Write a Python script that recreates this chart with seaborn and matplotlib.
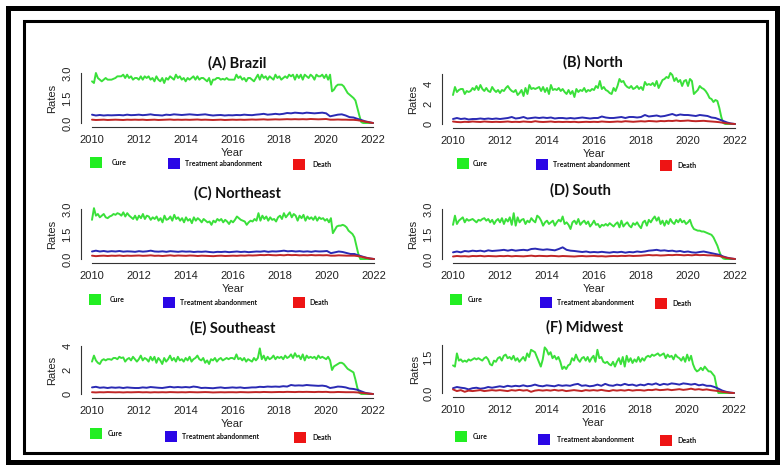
import numpy as np
import pandas as pd
import matplotlib
matplotlib.use("Agg")
import matplotlib.pyplot as plt
from matplotlib.patches import Rectangle
import seaborn as sns

# monthly cure rates, Jan 2010 .. Jan 2022 (145 values)
cure_brazil = [
    2.5, 2.4, 3.0, 2.7, 2.6, 2.5, 2.6, 2.7, 2.6, 2.6, 2.6, 2.65,
    2.7, 2.8, 2.8, 2.8, 2.9, 2.7, 2.9, 2.7, 2.8, 2.6, 2.7, 2.7,
    2.6, 2.8, 2.6, 2.8, 2.7, 2.8, 2.6, 2.7, 2.5, 2.8, 2.6, 2.5,
    2.7, 2.4, 2.7, 2.6, 2.8, 2.7, 2.6, 2.9, 2.7, 2.8, 2.6, 2.7,
    2.5, 2.7, 2.6, 2.7, 2.8, 2.6, 2.8, 2.6, 2.7, 2.7, 2.6, 2.5,
    2.7, 2.3, 2.6, 2.6, 2.7, 2.7, 2.6, 2.65, 2.6, 2.7, 2.6, 2.6,
    2.6, 2.6, 2.9, 2.7, 2.8, 2.6, 2.7, 2.5, 2.7, 2.7, 2.6, 2.5,
    2.7, 2.9, 2.6, 2.9, 2.7, 2.8, 2.6, 2.8, 2.7, 2.6, 2.9, 2.7,
    2.8, 2.6, 2.7, 2.8, 2.7, 2.9, 2.8, 2.9, 2.6, 2.9, 2.7, 2.9,
    2.6, 2.9, 2.8, 2.7, 2.9, 2.8, 2.6, 2.9, 2.8, 2.8, 2.9, 2.7,
    2.9, 2.6, 2.9, 1.9, 2.0, 2.2, 2.3, 2.3, 2.3, 2.2, 2.0, 1.8,
    1.7, 1.6, 1.5, 1.35, 0.9, 0.45, 0.05, 0.0, 0.0, 0.0, 0.0, 0.0,
    0.0]
cure_north = [
    2.9, 3.7, 3.2, 3.4, 3.5, 3.5, 3.0, 3.3, 3.2, 3.3, 3.6, 3.4,
    3.8, 3.4, 3.9, 3.5, 3.3, 3.6, 3.3, 3.2, 3.7, 3.4, 3.2, 3.4,
    3.1, 3.4, 3.3, 3.6, 3.8, 3.5, 3.3, 3.2, 3.4, 2.9, 3.1, 3.4,
    2.8, 3.6, 3.0, 3.9, 3.5, 3.6, 3.5, 3.6, 3.7, 3.3, 3.7, 3.2,
    3.6, 3.0, 3.9, 3.4, 3.5, 3.4, 3.6, 3.3, 3.5, 3.2, 3.0, 3.4,
    3.0, 3.3, 2.7, 3.5, 3.2, 3.4, 3.3, 3.6, 3.2, 3.4, 3.3, 3.5,
    3.4, 3.8, 3.6, 4.3, 3.5, 3.7, 3.4, 3.3, 3.1, 3.0, 3.6, 3.3,
    3.8, 4.5, 4.2, 4.3, 3.9, 3.7, 3.6, 3.8, 3.5, 3.6, 3.8, 3.5,
    3.7, 3.4, 4.2, 3.9, 4.0, 3.9, 4.1, 3.8, 4.3, 3.6, 4.0, 4.4,
    4.5, 4.7, 4.6, 5.1, 4.9, 4.3, 4.6, 4.2, 4.4, 3.8, 4.3, 4.4,
    3.8, 4.5, 4.3, 3.0, 3.2, 3.4, 3.8, 3.6, 3.5, 3.3, 3.0, 2.6,
    2.5, 2.2, 2.4, 2.3, 1.6, 0.7, 0.1, 0.0, 0.0, 0.0, 0.0, 0.0,
    0.0]
cure_northeast = [
    2.35, 3.05, 2.6, 2.7, 2.5, 2.6, 2.7, 2.5, 2.45, 2.55, 2.6, 2.7,
    2.65, 2.75, 2.7, 2.6, 2.8, 2.55, 2.75, 2.6, 2.5, 2.4, 2.6, 2.35,
    2.6, 2.45, 2.7, 2.4, 2.6, 2.55, 2.35, 2.5, 2.4, 2.55, 2.3, 2.45,
    2.2, 2.6, 2.35, 2.4, 2.55, 2.3, 2.65, 2.4, 2.5, 2.3, 2.45, 2.2,
    2.5, 2.3, 2.4, 2.15, 2.5, 2.3, 2.45, 2.35, 2.2, 2.4, 2.3, 2.2,
    2.25, 2.05, 2.3, 2.2, 2.4, 2.3, 2.4, 2.2, 2.35, 2.25, 2.1, 2.3,
    2.2, 2.35, 2.55, 2.45, 2.35, 2.3, 2.25, 2.05, 2.2, 2.3, 2.25, 2.4,
    2.3, 2.75, 2.3, 2.6, 2.4, 2.55, 2.3, 2.5, 2.35, 2.4, 2.25, 2.5,
    2.6, 2.4, 2.75, 2.5, 2.65, 2.8, 2.5, 2.7, 2.6, 2.3, 2.6, 2.45,
    2.65, 2.3, 2.55, 2.4, 2.5, 2.35, 2.55, 2.3, 2.5, 2.4, 2.45, 2.3,
    2.4, 2.2, 2.45, 1.55, 1.75, 1.95, 2.0, 2.0, 2.05, 2.0, 1.9, 1.7,
    1.6, 1.5, 1.3, 0.8, 0.3, 0.0, 0.0, 0.0, 0.0, 0.0, 0.0, 0.0,
    0.0]
cure_south = [
    2.05, 2.6, 2.1, 2.3, 2.4, 2.5, 2.2, 2.4, 2.3, 2.35, 2.4, 2.3,
    2.2, 2.35, 2.3, 2.4, 2.45, 2.3, 2.4, 2.2, 2.35, 2.1, 2.3, 2.4,
    2.2, 2.45, 2.1, 2.4, 2.25, 2.5, 2.05, 2.75, 2.0, 2.5, 2.2, 2.35,
    2.4, 2.1, 2.3, 2.2, 2.45, 2.3, 2.2, 2.6, 2.5, 2.3, 2.0, 2.2,
    2.3, 2.1, 2.2, 2.3, 2.0, 2.2, 2.35, 2.25, 2.55, 2.1, 2.2, 2.05,
    1.8, 2.2, 2.3, 2.1, 2.4, 2.05, 2.2, 2.3, 2.1, 2.25, 1.95, 2.1,
    2.3, 2.05, 2.1, 1.9, 2.05, 2.0, 2.1, 2.0, 2.15, 2.05, 1.95, 2.1,
    2.2, 1.9, 2.3, 1.95, 2.1, 2.2, 2.0, 1.9, 2.15, 2.05, 2.2, 2.0,
    1.85, 2.2, 2.3, 2.0, 2.35, 2.2, 2.4, 2.55, 2.3, 2.5, 2.1, 2.3,
    2.0, 2.3, 2.1, 2.4, 2.2, 2.1, 2.35, 2.2, 2.4, 2.2, 2.3, 2.1,
    2.2, 2.35, 2.0, 1.8, 1.75, 1.7, 1.7, 1.65, 1.65, 1.6, 1.55, 1.5,
    1.45, 1.3, 1.05, 0.8, 0.45, 0.15, 0.03, 0.0, 0.0, 0.0, 0.0, 0.0,
    0.0]
cure_southeast = [
    2.7, 3.2, 2.8, 2.6, 2.5, 2.8, 2.9, 2.8, 2.9, 2.9, 2.85, 3.0,
    3.0, 2.9, 3.1, 3.0, 3.05, 2.7, 2.9, 3.0, 2.8, 3.1, 2.9, 2.7,
    2.9, 3.2, 2.8, 3.0, 2.9, 2.7, 3.1, 2.8, 3.1, 2.6, 3.0, 2.8,
    2.5, 3.0, 2.7, 2.9, 3.2, 2.8, 3.0, 2.7, 3.1, 2.8, 2.9, 2.7,
    3.0, 2.8, 3.1, 2.7, 2.9, 3.0, 3.2, 2.9, 2.8, 3.0, 2.6, 2.8,
    2.5, 2.9, 2.8, 3.0, 2.7, 2.9, 3.0, 2.8, 2.9, 3.0, 2.9, 3.0,
    3.0, 2.9, 3.3, 2.9, 3.0, 2.8, 3.0, 2.7, 2.9, 2.8, 2.7, 3.0,
    2.8, 3.0, 3.8, 2.9, 3.2, 2.8, 3.1, 2.9, 3.0, 3.2, 2.9, 3.1,
    3.0, 3.1, 2.9, 3.2, 3.0, 3.1, 3.3, 3.0, 3.4, 3.1, 3.2, 2.9,
    3.3, 2.8, 3.2, 3.0, 3.1, 3.0, 3.1, 2.9, 3.2, 3.0, 3.1, 3.0,
    2.9, 3.1, 2.8, 2.0, 2.3, 2.4, 2.5, 2.6, 2.6, 2.5, 2.3, 2.1,
    2.0, 1.9, 1.8, 1.2, 0.5, 0.1, 0.0, 0.0, 0.0, 0.0, 0.0, 0.0,
    0.0]
cure_midwest = [
    1.15, 1.1, 1.65, 1.35, 1.4, 1.3, 1.35, 1.3, 1.4, 1.35, 1.4, 1.45,
    1.4, 1.45, 1.4, 1.35, 1.45, 1.5, 1.4, 1.2, 1.15, 1.35, 1.3, 1.45,
    1.5, 1.35, 1.55, 1.6, 1.45, 1.5, 1.4, 1.55, 1.35, 1.45, 1.3, 1.4,
    1.5, 1.35, 1.65, 1.5, 1.8, 1.75, 1.7, 1.5, 1.3, 1.1, 1.4, 1.9,
    1.8, 1.6, 1.7, 1.45, 1.55, 1.4, 1.5, 1.3, 1.0, 1.1, 1.0, 1.15,
    1.2, 1.45, 1.35, 1.6, 1.4, 1.3, 1.45, 1.5, 1.35, 1.5, 1.3, 1.45,
    1.55, 1.3, 1.8, 1.45, 1.5, 1.3, 1.25, 1.3, 1.2, 1.15, 1.3, 1.1,
    1.3, 1.45, 1.2, 1.5, 1.1, 1.55, 1.3, 1.45, 1.25, 1.4, 1.3, 1.5,
    1.3, 1.45, 1.35, 1.5, 1.55, 1.5, 1.6, 1.55, 1.6, 1.65, 1.55, 1.6,
    1.65, 1.45, 1.6, 1.5, 1.55, 1.4, 1.6, 1.5, 1.45, 1.35, 1.5, 1.3,
    1.6, 1.35, 1.55, 1.2, 1.0, 0.9, 0.95, 1.05, 0.95, 1.1, 1.0, 0.9,
    0.9, 0.8, 0.7, 0.3, 0.0, 0.0, 0.0, 0.0, 0.0, 0.0, 0.0, 0.0,
    0.0]

# bimonthly treatment abandonment rates, Jan 2010 .. Jan 2022 (73 values)
aband_brazil = [
    0.5, 0.45, 0.48, 0.45, 0.47, 0.46,
    0.47, 0.48, 0.46, 0.5, 0.47, 0.48,
    0.5, 0.47, 0.49, 0.52, 0.48, 0.47,
    0.45, 0.5, 0.48, 0.52, 0.5, 0.48,
    0.5, 0.52, 0.5, 0.48, 0.5, 0.52,
    0.48, 0.45, 0.47, 0.48, 0.45, 0.47,
    0.46, 0.48, 0.47, 0.5, 0.48, 0.47,
    0.5, 0.52, 0.55, 0.5, 0.52, 0.55,
    0.52, 0.55, 0.6, 0.58, 0.62, 0.6,
    0.58, 0.62, 0.6, 0.58, 0.6, 0.62,
    0.58, 0.4, 0.45, 0.5, 0.52, 0.45,
    0.35, 0.33, 0.25, 0.18, 0.1, 0.05,
    0.0]
aband_north = [
    0.5, 0.6, 0.5, 0.55, 0.45, 0.5,
    0.5, 0.55, 0.5, 0.55, 0.5, 0.55,
    0.5, 0.55, 0.6, 0.7, 0.55, 0.6,
    0.7, 0.55, 0.6, 0.65, 0.6, 0.65,
    0.6, 0.65, 0.55, 0.6, 0.6, 0.55,
    0.6, 0.55, 0.6, 0.65, 0.6, 0.55,
    0.6, 0.6, 0.75, 0.65, 0.6, 0.6,
    0.65, 0.7, 0.6, 0.7, 0.7, 0.65,
    0.7, 0.9, 0.75, 0.8, 0.85, 0.75,
    0.8, 0.9, 1.0, 0.85, 0.95, 0.9,
    0.9, 0.85, 0.8, 0.9, 0.85, 0.8,
    0.65, 0.6, 0.45, 0.3, 0.15, 0.05,
    0.0]
aband_northeast = [
    0.45, 0.5, 0.45, 0.48, 0.44, 0.47,
    0.45, 0.48, 0.44, 0.46, 0.45, 0.43,
    0.47, 0.44, 0.46, 0.5, 0.45, 0.44,
    0.46, 0.43, 0.47, 0.45, 0.43, 0.46,
    0.44, 0.45, 0.42, 0.44, 0.43, 0.45,
    0.42, 0.4, 0.43, 0.42, 0.44, 0.41,
    0.43, 0.45, 0.42, 0.44, 0.41, 0.43,
    0.45, 0.44, 0.47, 0.43, 0.46, 0.45,
    0.47, 0.5, 0.46, 0.48, 0.45, 0.47,
    0.44, 0.46, 0.43, 0.47, 0.45, 0.46,
    0.48, 0.35, 0.4, 0.45, 0.42, 0.36,
    0.3, 0.3, 0.22, 0.15, 0.08, 0.03,
    0.0]
aband_south = [
    0.4, 0.45, 0.4, 0.48, 0.45, 0.5,
    0.47, 0.5, 0.45, 0.52, 0.48, 0.5,
    0.52, 0.55, 0.5, 0.55, 0.5, 0.53,
    0.55, 0.52, 0.6, 0.62, 0.58, 0.55,
    0.58, 0.55, 0.52, 0.6, 0.7, 0.55,
    0.5, 0.48, 0.45, 0.42, 0.45, 0.4,
    0.42, 0.4, 0.43, 0.4, 0.38, 0.42,
    0.4, 0.43, 0.38, 0.42, 0.4, 0.45,
    0.42, 0.45, 0.5, 0.52, 0.55, 0.5,
    0.52, 0.48, 0.5, 0.45, 0.48, 0.42,
    0.45, 0.4, 0.38, 0.42, 0.45, 0.4,
    0.35, 0.3, 0.25, 0.15, 0.08, 0.03,
    0.0]
aband_southeast = [
    0.55, 0.6, 0.52, 0.55, 0.5, 0.55,
    0.52, 0.55, 0.5, 0.55, 0.52, 0.5,
    0.5, 0.55, 0.52, 0.58, 0.55, 0.52,
    0.5, 0.55, 0.6, 0.55, 0.58, 0.55,
    0.58, 0.55, 0.62, 0.58, 0.5, 0.52,
    0.5, 0.48, 0.52, 0.55, 0.5, 0.52,
    0.55, 0.52, 0.55, 0.5, 0.52, 0.55,
    0.55, 0.6, 0.58, 0.62, 0.6, 0.62,
    0.6, 0.65, 0.62, 0.75, 0.7, 0.72,
    0.7, 0.75, 0.72, 0.7, 0.68, 0.7,
    0.65, 0.5, 0.55, 0.62, 0.6, 0.55,
    0.45, 0.42, 0.35, 0.22, 0.1, 0.04,
    0.0]
aband_midwest = [
    0.2, 0.25, 0.22, 0.2, 0.15, 0.2,
    0.22, 0.18, 0.2, 0.25, 0.22, 0.25,
    0.28, 0.25, 0.3, 0.27, 0.3, 0.28,
    0.32, 0.28, 0.3, 0.35, 0.3, 0.28,
    0.32, 0.3, 0.28, 0.33, 0.3, 0.32,
    0.3, 0.35, 0.38, 0.3, 0.32, 0.28,
    0.3, 0.35, 0.3, 0.38, 0.32, 0.3,
    0.35, 0.32, 0.38, 0.33, 0.35, 0.3,
    0.35, 0.32, 0.38, 0.35, 0.4, 0.33,
    0.38, 0.35, 0.4, 0.38, 0.35, 0.4,
    0.38, 0.35, 0.38, 0.32, 0.35, 0.3,
    0.3, 0.25, 0.18, 0.1, 0.05, 0.02,
    0.0]

# bimonthly death rates
death_brazil = [
    0.2, 0.18, 0.19, 0.2, 0.18, 0.19,
    0.2, 0.19, 0.18, 0.2, 0.19, 0.2,
    0.19, 0.2, 0.18, 0.19, 0.2, 0.18,
    0.19, 0.2, 0.21, 0.19, 0.2, 0.19,
    0.2, 0.19, 0.2, 0.21, 0.19, 0.2,
    0.19, 0.18, 0.19, 0.2, 0.18, 0.19,
    0.2, 0.19, 0.2, 0.19, 0.2, 0.21,
    0.2, 0.21, 0.22, 0.2, 0.21, 0.22,
    0.21, 0.22, 0.23, 0.22, 0.23, 0.22,
    0.23, 0.22, 0.24, 0.23, 0.22, 0.23,
    0.24, 0.2, 0.2, 0.21, 0.2, 0.2,
    0.19, 0.19, 0.17, 0.13, 0.08, 0.04,
    0.0]
death_north = [
    0.25, 0.2, 0.18, 0.22, 0.2, 0.25,
    0.22, 0.2, 0.25, 0.22, 0.2, 0.22,
    0.2, 0.22, 0.25, 0.2, 0.22, 0.2,
    0.25, 0.22, 0.2, 0.28, 0.22, 0.2,
    0.22, 0.25, 0.2, 0.22, 0.2, 0.22,
    0.2, 0.22, 0.18, 0.2, 0.22, 0.2,
    0.22, 0.2, 0.25, 0.22, 0.2, 0.22,
    0.25, 0.22, 0.28, 0.25, 0.22, 0.25,
    0.28, 0.25, 0.3, 0.28, 0.25, 0.3,
    0.28, 0.32, 0.3, 0.35, 0.3, 0.32,
    0.35, 0.3, 0.28, 0.3, 0.32, 0.28,
    0.25, 0.22, 0.18, 0.12, 0.06, 0.03,
    0.0]
death_northeast = [
    0.2, 0.17, 0.19, 0.2, 0.18, 0.2,
    0.19, 0.21, 0.18, 0.2, 0.19, 0.2,
    0.21, 0.19, 0.2, 0.22, 0.19, 0.2,
    0.18, 0.2, 0.22, 0.19, 0.21, 0.2,
    0.19, 0.21, 0.2, 0.18, 0.2, 0.19,
    0.18, 0.17, 0.19, 0.2, 0.18, 0.19,
    0.2, 0.19, 0.21, 0.2, 0.22, 0.21,
    0.22, 0.24, 0.23, 0.25, 0.23, 0.22,
    0.24, 0.22, 0.25, 0.23, 0.24, 0.22,
    0.23, 0.22, 0.24, 0.22, 0.23, 0.22,
    0.23, 0.2, 0.2, 0.22, 0.21, 0.2,
    0.2, 0.2, 0.17, 0.12, 0.07, 0.03,
    0.0]
death_south = [
    0.15, 0.18, 0.16, 0.17, 0.15, 0.18,
    0.17, 0.19, 0.16, 0.18, 0.17, 0.16,
    0.18, 0.17, 0.19, 0.16, 0.18, 0.17,
    0.16, 0.18, 0.2, 0.17, 0.19, 0.18,
    0.17, 0.19, 0.18, 0.16, 0.18, 0.17,
    0.16, 0.15, 0.17, 0.18, 0.16, 0.17,
    0.18, 0.16, 0.17, 0.15, 0.17, 0.18,
    0.17, 0.19, 0.18, 0.2, 0.18, 0.19,
    0.2, 0.22, 0.24, 0.22, 0.23, 0.21,
    0.22, 0.24, 0.23, 0.25, 0.24, 0.22,
    0.24, 0.22, 0.25, 0.23, 0.24, 0.22,
    0.22, 0.2, 0.18, 0.12, 0.06, 0.03,
    0.0]
death_southeast = [
    0.15, 0.13, 0.15, 0.14, 0.16, 0.15,
    0.14, 0.15, 0.13, 0.15, 0.14, 0.15,
    0.16, 0.14, 0.15, 0.13, 0.15, 0.14,
    0.15, 0.14, 0.16, 0.15, 0.14, 0.15,
    0.14, 0.16, 0.15, 0.14, 0.15, 0.16,
    0.15, 0.13, 0.14, 0.15, 0.14, 0.15,
    0.15, 0.14, 0.16, 0.15, 0.14, 0.15,
    0.16, 0.15, 0.17, 0.16, 0.15, 0.16,
    0.17, 0.16, 0.18, 0.17, 0.16, 0.18,
    0.17, 0.18, 0.17, 0.16, 0.18, 0.17,
    0.18, 0.15, 0.15, 0.17, 0.16, 0.15,
    0.15, 0.15, 0.13, 0.1, 0.06, 0.03,
    0.0]
death_midwest = [
    0.15, 0.08, 0.12, 0.05, 0.1, 0.08,
    0.1, 0.12, 0.08, 0.1, 0.12, 0.1,
    0.12, 0.1, 0.08, 0.12, 0.1, 0.13,
    0.1, 0.12, 0.05, 0.1, 0.12, 0.1,
    0.12, 0.1, 0.13, 0.1, 0.12, 0.08,
    0.1, 0.12, 0.1, 0.08, 0.12, 0.1,
    0.12, 0.1, 0.13, 0.1, 0.08, 0.12,
    0.1, 0.12, 0.1, 0.13, 0.1, 0.12,
    0.12, 0.1, 0.13, 0.12, 0.15, 0.12,
    0.13, 0.15, 0.12, 0.14, 0.16, 0.13,
    0.15, 0.18, 0.14, 0.16, 0.13, 0.15,
    0.12, 0.1, 0.08, 0.05, 0.03, 0.01,
    0.0]

titles = ["(A) Brazil", "(B) North", "(C) Northeast", "(D) South", "(E) Southeast", "(F) Midwest"]
series = ["Cure", "Treatment abandonment", "Death"]
year_ticks = [2010, 2012, 2014, 2016, 2018, 2020, 2022]

months = 2010 + np.arange(145) / 12
bimonths = 2010 + np.arange(73) / 6

line_colors = ["#3ae03a", "#2a2ab4", "#c02626"]
box_colors = ["#22ee22", "#2a06e6", "#ee1414"]

W, H = 784, 471
fig = plt.figure(figsize=(W / 100, H / 100), dpi=100)
sns.set_style("white")
plt.rcParams["font.family"] = ["Liberation Sans", "DejaVu Sans"]


def fx(x):
    return x / W


def fy(y):
    return 1 - y / H


# layout per panel: x of 2010, x of 2022, y of 0, y of top tick, top tick value,
# y ticks, labels shown, title centre, Rates x, legend square x's, legend y's
layout = [
    dict(x0=92, x1=373, y0=123, yt=73, tv=3.0, ticks=[0, 0.5, 1, 1.5, 2, 2.5, 3.0],
         labs=["0.0", "", "", "1.5", "", "", "3.0"], tc=(237, 63), rx=52,
         leg=[(90, 157, 112), (168, 158, 185), (293, 159, 312)]),
    dict(x0=453, x1=735, y0=124, yt=74, tv=5, ticks=[0, 1, 2, 3, 4, 5],
         labs=["0", "", "2", "", "4", ""], tc=(593, 62), rx=413,
         leg=[(457, 158, 473), (536, 159, 553), (660, 160, 677)]),
    dict(x0=92, x1=374, y0=259, yt=209, tv=3.0, ticks=[0, 0.5, 1, 1.5, 2, 2.5, 3.0],
         labs=["0.0", "", "", "1.5", "", "", "3.0"], tc=(237, 193), rx=52,
         leg=[(89, 294, 110), (163, 297, 180), (293, 297, 309)]),
    dict(x0=453, x1=735, y0=259, yt=209, tv=3.0, ticks=[0, 0.5, 1, 1.5, 2, 2.5, 3.0],
         labs=["0.0", "", "", "1.5", "", "", "3.0"], tc=(580, 190), rx=413,
         leg=[(450, 294, 468), (540, 297, 557), (655, 298, 672)]),
    dict(x0=92, x1=373, y0=394, yt=346, tv=4, ticks=[0, 1, 2, 3, 4],
         labs=["0", "", "2", "", "4"], tc=(233, 328), rx=52,
         leg=[(90, 428, 108), (165, 431, 182), (294, 432, 312)]),
    dict(x0=453, x1=734, y0=393, yt=345, tv=2.0, ticks=[0, 0.5, 1, 1.5, 2.0],
         labs=["0.0", "", "", "1.5", ""], tc=(585, 327), rx=415,
         leg=[(455, 431, 473), (538, 434, 557), (660, 435, 677)]),
]

cures = [cure_brazil, cure_north, cure_northeast, cure_south, cure_southeast, cure_midwest]
abands = [aband_brazil, aband_north, aband_northeast, aband_south, aband_southeast, aband_midwest]
deaths = [death_brazil, death_north, death_northeast, death_south, death_southeast, death_midwest]

for i, lay in enumerate(layout):
    df = pd.concat([
        pd.DataFrame({"Year": months, "Rates": cures[i], "Outcome": "Cure"}),
        pd.DataFrame({"Year": bimonths, "Rates": abands[i], "Outcome": "Treatment abandonment"}),
        pd.DataFrame({"Year": bimonths, "Rates": deaths[i], "Outcome": "Death"}),
    ])

    sx = (lay["x1"] - lay["x0"]) / 12
    sy = (lay["y0"] - lay["yt"]) / lay["tv"]
    left = lay["x0"] - 0.48 * sx
    right = lay["x1"] + 0.48 * sx
    bot = lay["y0"] + 4
    top = lay["yt"] - 4
    ax = fig.add_axes([fx(left), fy(bot), (right - left) / W, (bot - top) / H])
    ax.set_facecolor("none")

    sns.lineplot(data=df, x="Year", y="Rates", hue="Outcome", hue_order=series,
                 palette=line_colors, linewidth=1.4, legend=False, ax=ax)
    ax.set_xlim(2010 - 0.48, 2022 + 0.48)
    ax.set_ylim(-4 / sy, lay["tv"] + 4 / sy)

    for s in ["top", "right"]:
        ax.spines[s].set_visible(False)
    ax.spines["left"].set_bounds(0, lay["tv"])
    ax.spines["bottom"].set_bounds(2010, 2022)
    for s in ["left", "bottom"]:
        ax.spines[s].set_linewidth(0.8)
        ax.spines[s].set_color("#333333")

    ax.set_xticks(year_ticks, [str(y) for y in year_ticks])
    ax.set_yticks(lay["ticks"], lay["labs"])
    ax.tick_params(axis="both", length=4, width=0.8, color="#333333",
                   labelsize=8, labelcolor="#222222", direction="out")
    ax.tick_params(axis="x", pad=1.5)
    ax.tick_params(axis="y", pad=2)
    for t in ax.get_yticklabels():
        t.set_rotation(90)
        t.set_va("center")
    ax.set_xlabel("")
    ax.set_ylabel("")

    fig.text(fx(lay["tc"][0]), fy(lay["tc"][1]), titles[i], ha="center", va="center",
             fontsize=10.5, fontweight="bold", family="Lato", color="#111111")
    fig.text(fx((lay["x0"] + lay["x1"]) / 2), fy(lay["y0"] + 30), "Year",
             ha="center", va="center", fontsize=8, color="#222222")
    fig.text(fx(lay["rx"]), fy((lay["y0"] + lay["yt"]) / 2), "Rates", rotation=90,
             ha="center", va="center", fontsize=8, color="#222222")

    for (bx, by, tx), name, col in zip(lay["leg"], series, box_colors):
        fig.add_artist(Rectangle((fx(bx), fy(by + 11)), 12 / W, 11 / H,
                                 transform=fig.transFigure, facecolor=col, edgecolor="none"))
        fig.text(fx(tx), fy(by + 5.5), name, ha="left", va="center", fontsize=5.0,
                 fontweight="bold", family="Lato", color="#111111")

# double black frame around the figure
fig.add_artist(Rectangle((fx(7.5), fy(462)), (777 - 7.5) / W, (462 - 8) / H,
                         transform=fig.transFigure, fill=False, edgecolor="black", linewidth=3.6))
fig.add_artist(Rectangle((fx(23.5), fy(453)), (767 - 23.5) / W, (453 - 20.5) / H,
                         transform=fig.transFigure, fill=False, edgecolor="black", linewidth=2.2))

fig.savefig("out.png", dpi=100, facecolor="white")
